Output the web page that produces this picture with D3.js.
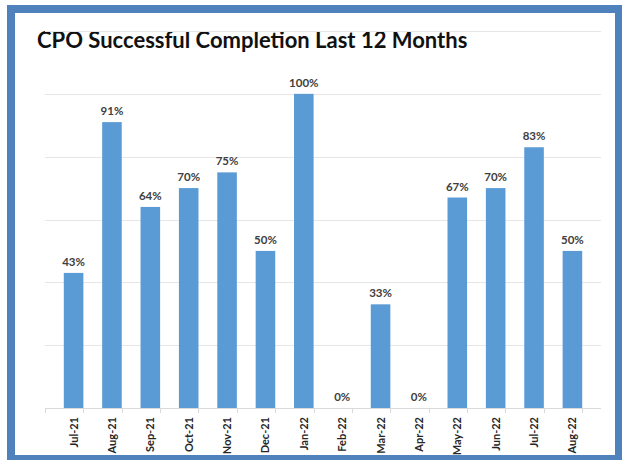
<!DOCTYPE html>
<html>
<head>
<meta charset="utf-8">
<script src="https://cdn.jsdelivr.net/npm/d3@7"></script>
<style>
  body { margin: 0; background: #fff; }
  text { font-family: Lato, "Open Sans", sans-serif; }
</style>
</head>
<body>
<div id="chart"></div>
<script>
var months = ["Jul-21", "Aug-21", "Sep-21", "Oct-21", "Nov-21", "Dec-21", "Jan-22",
              "Feb-22", "Mar-22", "Apr-22", "May-22", "Jun-22", "Jul-22", "Aug-22"]
var completion = [43, 91, 64, 70, 75, 50, 100, 0, 33, 0, 67, 70, 83, 50]
var gridTicks = [0, 20, 40, 60, 80, 100, 120]

var W = 622, H = 460
var margin = {top: 31, right: 21, bottom: 52, left: 45}
var width = W - margin.left - margin.right
var height = H - margin.top - margin.bottom

var root = d3.select("#chart").append("svg")
  .attr("width", W)
  .attr("height", H)

// frame
root.append("rect")
  .attr("x", 11).attr("y", 9)
  .attr("width", 608).attr("height", 450)
  .attr("fill", "#fff")
  .attr("stroke", "#4f81bd")
  .attr("stroke-width", 8)

root.append("text")
  .attr("x", 37)
  .attr("y", 48)
  .attr("font-size", 22)
  .attr("font-weight", "bold")
  .attr("fill", "#111")
  .text("CPO Successful Completion Last 12 Months")

var svg = root.append("g")
  .attr("transform", "translate(" + margin.left + "," + margin.top + ")")

var x = d3.scaleBand()
  .domain(months)
  .range([0, width])
  .padding(0.49)

var y = d3.scaleLinear()
  .domain([0, 120])
  .range([height, 0])

svg.append("g")
  .selectAll("line")
  .data(gridTicks.slice(1))
  .enter()
  .append("line")
  .attr("x1", 0).attr("x2", width)
  .attr("y1", function(d) { return Math.round(y(d)) + 0.5 })
  .attr("y2", function(d) { return Math.round(y(d)) + 0.5 })
  .attr("stroke", "#e6e6e6")
  .attr("stroke-width", 1)

svg.append("g")
  .selectAll("rect")
  .data(completion)
  .enter()
  .append("rect")
  .attr("x", function(d, i) { return x(months[i]) })
  .attr("y", function(d) { return y(d) })
  .attr("width", x.bandwidth())
  .attr("height", function(d) { return height - y(d) })
  .attr("fill", "#5b9bd5")

svg.append("g")
  .selectAll("text")
  .data(completion)
  .enter()
  .append("text")
  .attr("x", function(d, i) { return x(months[i]) + x.bandwidth() / 2 })
  .attr("y", function(d) { return y(d) - 7 })
  .attr("text-anchor", "middle")
  .attr("font-size", 11.5)
  .attr("font-weight", "bold")
  .attr("fill", "#404040")
  .text(function(d) { return d + "%" })

// category axis with ticks at band edges
var xAxis = svg.append("g")
  .attr("transform", "translate(0," + height + ")")

xAxis.append("line")
  .attr("x1", 0).attr("x2", width)
  .attr("y1", 0.5).attr("y2", 0.5)
  .attr("stroke", "#d9d9d9")

xAxis.selectAll(".edge")
  .data(months.concat(["end"]))
  .enter()
  .append("line")
  .attr("class", "edge")
  .attr("x1", function(d, i) { return Math.round(i * x.step()) + 0.5 })
  .attr("x2", function(d, i) { return Math.round(i * x.step()) + 0.5 })
  .attr("y1", 0).attr("y2", 5)
  .attr("stroke", "#d9d9d9")

xAxis.selectAll(".lbl")
  .data(months)
  .enter()
  .append("text")
  .attr("class", "lbl")
  .attr("transform", function(d) {
    return "translate(" + (x(d) + x.bandwidth() / 2 + 4) + ",9) rotate(-90)"
  })
  .attr("text-anchor", "end")
  .attr("font-size", 11)
  .attr("font-weight", "bold")
  .attr("fill", "#262626")
  .text(function(d) { return d })
</script>
</body>
</html>
